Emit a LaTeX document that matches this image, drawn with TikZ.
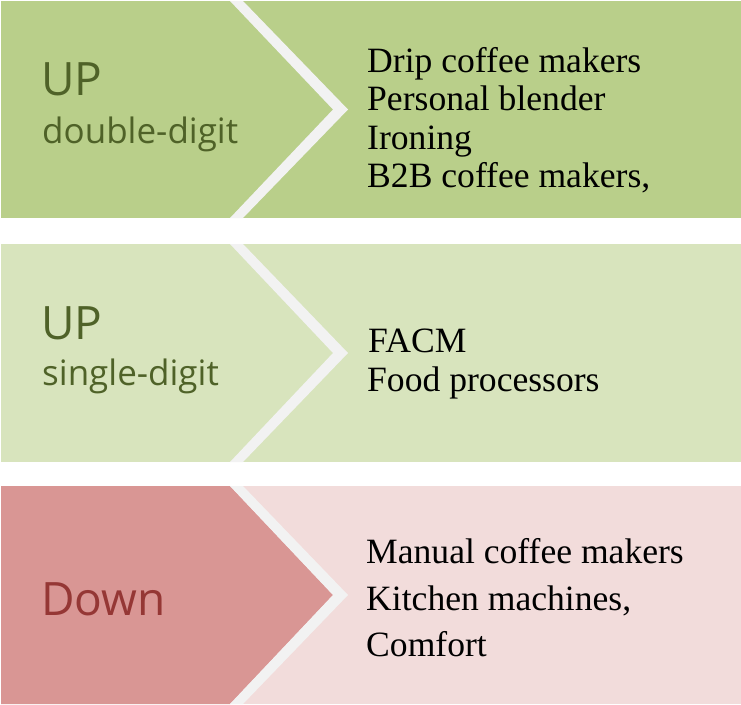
\documentclass[tikz,border=0pt]{standalone}
\usepackage{fontspec}
\setmainfont{Liberation Serif}
\newfontfamily\labelfont{Open Sans}

\definecolor{upstrong}{HTML}{B9CF8A}
\definecolor{uplight}{HTML}{D8E4BD}
\definecolor{downstrong}{HTML}{D99694}
\definecolor{downlight}{HTML}{F2DCDB}
\definecolor{stripegray}{HTML}{F2F2F2}
\definecolor{olivetext}{HTML}{4F6228}
\definecolor{downtext}{HTML}{953735}

\begin{document}
\begin{tikzpicture}[x=1pt, y=-1pt,
        tag/.style = {anchor=base west, inner sep=0pt, font=\labelfont\fontsize{46}{46}\selectfont},
        subtag/.style = {anchor=base west, inner sep=0pt, text=olivetext, font=\labelfont\fontsize{35}{35}\selectfont},
        item/.style = {anchor=base west, inner sep=0pt, font=\fontsize{35.6}{38}\selectfont},
        stripe/.style = {fill=stripegray}
    ]
    \useasboundingbox (0,0) rectangle (741,704);

    % ================= BAND 1: UP double-digit =================
    \fill[upstrong] (1,1) rectangle (741,218);
    \fill[stripe] (230,1) -- (243,1) -- (348,109.5) -- (243,218) -- (230,218) -- (333,109.5) -- cycle;

    \node[tag, text=olivetext] (up1) at (41,95) {UP};
    \node[subtag] (double) at (42,143) {double-digit};

    \node[item] (drip) at (367,72) {Drip coffee makers};
    \node[item] (blender) at (367,110.5) {Personal blender};
    \node[item] (ironing) at (367,149) {Ironing};
    \node[item] (btob) at (367,187) {B2B coffee makers,};

    % ================= BAND 2: UP single-digit =================
    \fill[uplight] (1,244) rectangle (741,462);
    \fill[stripe] (230,244) -- (243,244) -- (348,353) -- (243,462) -- (230,462) -- (333,353) -- cycle;

    \node[tag, text=olivetext] (up2) at (41,339) {UP};
    \node[subtag] (single) at (42,385) {single-digit};

    \node[item] (facm) at (368,352) {FACM};
    \node[item] (food) at (367,391.5) {Food processors};

    % ================= BAND 3: Down =================
    \fill[downlight] (1,486) rectangle (741,704);
    \fill[downstrong] (1,486) -- (230,486) -- (333,595) -- (230,704) -- (1,704) -- cycle;
    \fill[stripe] (230,486) -- (243,486) -- (348,595) -- (243,704) -- (230,704) -- (333,595) -- cycle;

    \node[tag, text=downtext] (down) at (41,615) {Down};

    \node[item] (manual) at (366,563) {Manual coffee makers};
    \node[item] (kitchen) at (366,610) {Kitchen machines,};
    \node[item] (comfort) at (366,656.5) {Comfort};

\end{tikzpicture}
\end{document}
